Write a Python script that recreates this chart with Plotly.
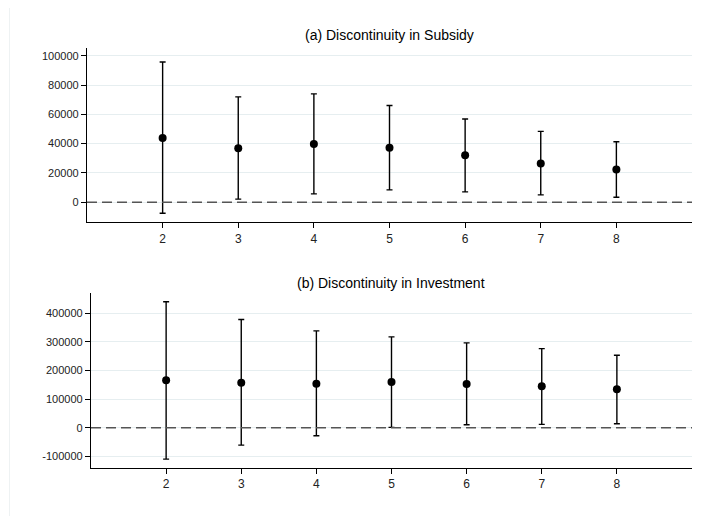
import plotly.graph_objects as go

# ---- data ----
bandwidth = [2, 3, 4, 5, 6, 7, 8]

subsidy_est = [43800, 36800, 39700, 37200, 32000, 26500, 22400]
subsidy_hi = [95700, 71900, 74000, 66000, 56800, 48400, 41300]
subsidy_lo = [-7500, 2100, 5700, 8400, 7100, 5000, 3400]

invest_est = [165700, 157300, 153800, 159800, 152800, 144800, 134300]
invest_hi = [439500, 377600, 338100, 317100, 296200, 276200, 253100]
invest_lo = [-109400, -60500, -28000, 1400, 10500, 11900, 14000]

sub_ticks = [0, 20000, 40000, 60000, 80000, 100000]
inv_ticks = [-100000, 0, 100000, 200000, 300000, 400000]
x_ticks = [2, 3, 4, 5, 6, 7, 8]

titles = ["(a) Discontinuity in Subsidy", "(b) Discontinuity in Investment"]

# page body adds an 8px offset; the figure is sized to fit the window
OFF = 8
W, H = 706 - OFF, 516 - OFF
FONT = "Liberation Sans, Arial, sans-serif"
GRID = "#e6eef0"


def px(x):
    return (x - OFF) / W


def py(y):
    return 1 - (y - OFF) / H


fig = go.Figure()


def add_panel(est, hi, lo, xa, ya):
    fig.add_trace(go.Scatter(
        x=bandwidth, y=est, mode="markers",
        marker=dict(color="black", size=8, symbol="circle"),
        error_y=dict(type="data", symmetric=False,
                     array=[h - e for h, e in zip(hi, est)],
                     arrayminus=[e - l for e, l in zip(est, lo)],
                     color="black", thickness=1.4, width=3),
        xaxis=xa, yaxis=ya, showlegend=False, hoverinfo="x+y"))


add_panel(subsidy_est, subsidy_hi, subsidy_lo, "x", "y")
add_panel(invest_est, invest_hi, invest_lo, "x2", "y2")

axis_common = dict(showline=True, linecolor="black", linewidth=1.3,
                   ticks="outside", ticklen=5, tickcolor="black", tickwidth=1,
                   zeroline=False)
xfont = dict(family=FONT, size=12, color="#222")
yfont = dict(family=FONT, size=11, color="#222")

fig.update_layout(
    width=W, height=H,
    margin=dict(l=0, r=0, t=0, b=0),
    paper_bgcolor="white", plot_bgcolor="white",
    font=dict(family=FONT),
    xaxis=dict(domain=[px(87), px(692)], range=[1, 9], anchor="y",
               tickvals=x_ticks, ticktext=[str(v) for v in x_ticks],
               tickfont=xfont, showgrid=False, **axis_common),
    yaxis=dict(domain=[py(222), py(48)], range=[-13500, 105300], anchor="x",
               tickvals=sub_ticks, ticktext=[str(v) for v in sub_ticks],
               tickfont=yfont, showgrid=True, gridcolor=GRID, gridwidth=1, **axis_common),
    xaxis2=dict(domain=[px(91), px(692)], range=[1, 9], anchor="y2",
                tickvals=x_ticks, ticktext=[str(v) for v in x_ticks],
                tickfont=xfont, showgrid=False, **axis_common),
    yaxis2=dict(domain=[py(467.5), py(293)], range=[-138500, 470000], anchor="x2",
                tickvals=inv_ticks, ticktext=[str(v) for v in inv_ticks],
                tickfont=yfont, showgrid=True, gridcolor=GRID, gridwidth=1, **axis_common),
    shapes=[
        dict(type="line", xref="x domain", yref="y", x0=0, x1=1, y0=0, y1=0,
             line=dict(color="#555555", width=1.6, dash="10px,5px"), layer="above"),
        dict(type="line", xref="x2 domain", yref="y2", x0=0, x1=1, y0=0, y1=0,
             line=dict(color="#555555", width=1.6, dash="10px,5px"), layer="above"),
        dict(type="rect", xref="paper", yref="paper", x0=px(9.5), x1=1.02, y0=-0.02, y1=py(3.5),
             line=dict(color="#eef2f3", width=1), layer="below"),
    ],
    annotations=[
        dict(text=titles[0], xref="paper", yref="paper", x=px((87 + 692) / 2), y=py(35),
             showarrow=False, font=dict(family=FONT, size=14, color="black"),
             xanchor="center", yanchor="middle"),
        dict(text=titles[1], xref="paper", yref="paper", x=px((91 + 692) / 2), y=py(283),
             showarrow=False, font=dict(family=FONT, size=14, color="black"),
             xanchor="center", yanchor="middle"),
    ],
)

fig.write_html("out.html")
